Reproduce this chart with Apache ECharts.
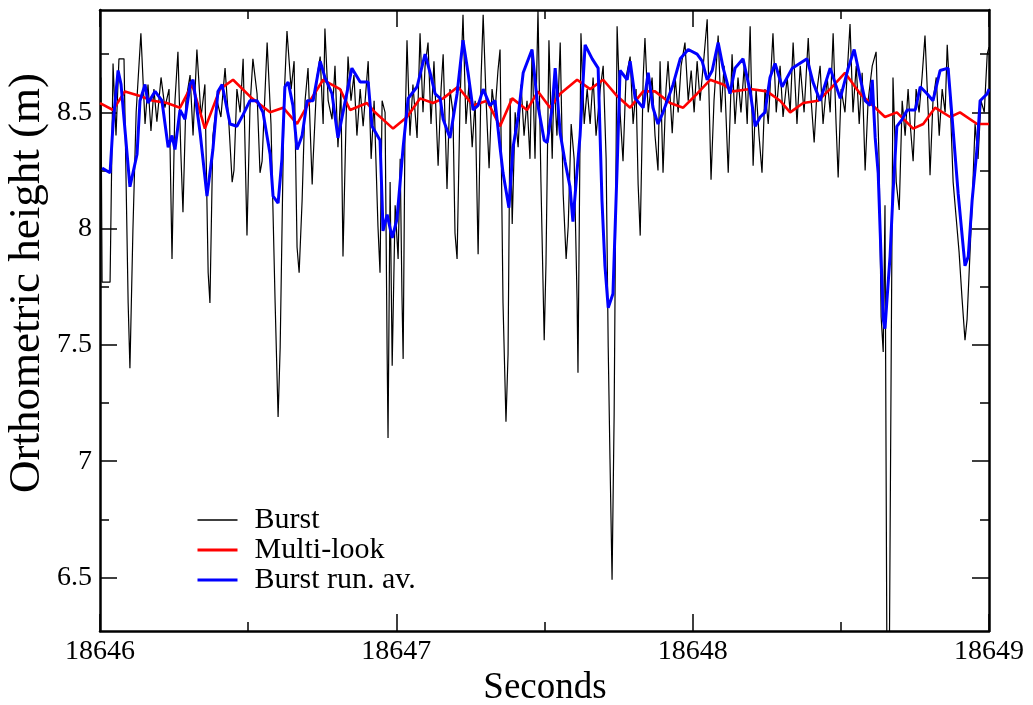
<!DOCTYPE html>
<html><head><meta charset="utf-8">
<script src="https://cdn.jsdelivr.net/npm/echarts@6/dist/echarts.min.js"></script>
<style>html,body{margin:0;padding:0;background:#fff}#c{width:1033px;height:705px}</style>
</head><body><div id="c"></div>
<script>
// time in seconds after startSecond, orthometric height in m
const startSecond = 18646;
const burst = [
[0.003,8.65],[0.007,7.77],[0.034,7.77],[0.044,8.71],[0.054,8.40],[0.064,8.73],[0.081,8.73],[0.095,7.68],[0.101,7.40],[0.111,7.99],
[0.122,8.50],[0.138,8.84],[0.152,8.45],[0.162,8.62],[0.172,8.42],[0.182,8.60],[0.192,8.46],[0.206,8.65],[0.219,8.52],[0.233,8.60],
[0.243,7.87],[0.253,8.55],[0.263,8.76],[0.273,8.32],[0.280,8.07],[0.290,8.55],[0.304,8.66],[0.314,8.40],[0.327,8.77],[0.341,8.48],
[0.354,8.62],[0.365,7.81],[0.371,7.68],[0.381,8.40],[0.395,8.55],[0.408,8.48],[0.422,8.69],[0.435,8.45],[0.446,8.20],[0.452,8.25],
[0.462,8.60],[0.473,8.50],[0.483,8.73],[0.496,7.97],[0.506,8.52],[0.516,8.73],[0.530,8.58],[0.540,8.24],[0.547,8.29],[0.564,8.80],
[0.577,8.45],[0.591,7.68],[0.601,7.19],[0.608,7.49],[0.621,8.55],[0.631,8.85],[0.645,8.60],[0.655,8.72],[0.665,7.92],[0.672,7.81],
[0.682,8.12],[0.692,8.55],[0.702,8.69],[0.716,8.19],[0.719,8.29],[0.732,8.65],
[0.743,8.74],[0.753,8.45],[0.759,8.86],[0.770,8.55],[0.783,8.47],[0.793,8.70],[0.803,8.35],[0.813,8.60],[0.820,7.88],[0.830,8.45],
[0.837,8.74],[0.847,8.55],[0.857,8.66],[0.867,8.40],[0.878,8.60],[0.888,8.44],[0.905,8.72],[0.915,8.30],[0.925,8.55],[0.938,8.01],
[0.945,7.81],[0.952,8.55],[0.962,8.50],[0.969,7.46],[0.972,7.10],[0.979,8.20],[0.986,7.41],[0.996,8.10],[1.006,7.87],[1.013,8.30],
[1.019,7.71],[1.023,7.44],[1.029,8.40],[1.036,8.81],[1.046,8.40],[1.056,8.62],[1.070,8.39],[1.080,8.84],[1.090,8.50],[1.097,8.70],
[1.107,8.80],[1.117,8.45],[1.127,8.72],[1.141,8.27],[1.151,8.60],[1.158,8.75],[1.171,8.17],[1.181,8.60],[1.191,8.50],[1.198,7.98],
[1.205,7.87],[1.215,8.55],[1.225,8.92],[1.235,8.45],[1.245,8.62],[1.256,8.35],[1.266,8.55],[1.276,7.89],[1.286,8.65],[1.293,8.92],
[1.303,8.55],[1.313,8.26],[1.323,8.60],[1.333,8.50],[1.343,8.68],[1.350,8.77],[1.360,7.68],[1.370,7.17],[1.377,7.46],[1.384,8.56],
[1.391,8.02],[1.401,8.50],[1.411,8.35],[1.421,8.62],[1.431,8.40],[1.441,8.55],[1.451,8.30],[1.458,8.77],[1.468,8.30],[1.478,8.94],
[1.488,8.20],[1.499,7.52],
[1.505,7.85],[1.515,8.81],[1.526,8.30],[1.532,8.65],[1.542,8.40],[1.553,8.80],[1.563,8.15],[1.573,7.87],[1.580,8.01],[1.590,8.45],
[1.600,8.30],[1.610,7.69],[1.613,7.38],[1.623,8.84],[1.634,8.45],[1.644,8.60],[1.654,8.45],[1.664,8.65],[1.674,8.40],[1.688,8.60],
[1.698,8.70],[1.708,8.30],[1.715,7.49],[1.721,7.01],[1.728,6.49],[1.735,7.20],[1.742,8.40],[1.745,8.87],[1.755,8.50],[1.765,8.29],
[1.775,8.65],[1.789,8.74],[1.799,8.45],[1.809,8.60],[1.816,8.19],[1.823,7.97],[1.833,8.65],[1.839,8.82],[1.850,8.50],[1.863,8.65],
[1.873,8.40],[1.883,8.25],[1.890,8.72],[1.900,8.24],[1.910,8.60],[1.917,8.72],[1.931,8.41],[1.941,8.65],[1.951,8.50],[1.961,8.70],
[1.974,8.80],[1.985,8.55],[1.995,8.68],[2.005,8.50],[2.015,8.72],[2.025,8.55],[2.039,8.75],[2.049,8.90],[2.062,8.21],[2.072,8.55],
[2.086,8.83],[2.096,8.50],[2.106,8.70],[2.120,8.24],[2.133,8.75],[2.143,8.45],[2.153,8.65],[2.163,8.50],[2.174,8.70],[2.184,8.45],
[2.194,8.87],[2.204,8.27],[2.214,8.60],[2.224,8.40],[2.234,8.24],
[2.244,8.60],[2.255,8.45],[2.271,8.84],[2.282,8.50],[2.295,8.70],[2.305,8.48],[2.319,8.65],[2.329,8.50],[2.339,8.80],[2.352,8.45],
[2.363,8.70],[2.376,8.50],[2.390,8.82],[2.400,8.55],[2.410,8.37],[2.420,8.60],[2.430,8.70],[2.440,8.45],[2.454,8.65],[2.464,8.50],
[2.474,8.84],[2.484,8.45],[2.491,8.22],[2.501,8.60],[2.514,8.50],[2.531,8.88],[2.541,8.50],[2.552,8.70],[2.562,8.45],[2.572,8.67],
[2.582,8.25],[2.592,8.55],[2.606,8.70],[2.619,8.76],[2.629,8.30],[2.636,7.62],[2.643,7.47],[2.649,8.10],[2.656,6.00],[2.663,6.00],
[2.670,7.46],[2.676,8.65],[2.687,8.20],[2.697,8.08],[2.707,8.55],[2.717,8.40],[2.727,8.60],[2.734,8.45],[2.744,8.29],[2.754,8.60],
[2.764,8.50],[2.774,8.65],[2.784,8.83],[2.795,8.50],[2.801,8.23],[2.811,8.55],[2.822,8.65],[2.832,8.40],[2.842,8.60],[2.852,8.50],
[2.859,8.79],[2.869,8.55],[2.879,8.20],[2.889,8.05],[2.899,7.90],[2.909,7.70],[2.919,7.52],[2.926,7.61],[2.936,7.90],[2.943,8.10],
[2.953,8.45],[2.963,8.30],[2.973,8.55],[2.984,8.50],[2.994,8.75],[3.000,8.78]
];
const multiLook = [
[0.000,8.54],[0.044,8.51],[0.084,8.59],[0.135,8.57],[0.179,8.55],[0.226,8.54],[0.270,8.52],[0.311,8.62],[0.354,8.43],[0.405,8.60],
[0.449,8.64],[0.513,8.56],[0.574,8.50],[0.618,8.52],[0.665,8.45],[0.709,8.55],[0.753,8.64],[0.810,8.60],[0.844,8.51],[0.901,8.54],
[0.928,8.50],[0.989,8.43],[1.036,8.48],[1.080,8.56],[1.124,8.54],[1.158,8.56],[1.208,8.61],[1.259,8.53],[1.306,8.55],[1.350,8.44],
[1.391,8.56],[1.441,8.51],[1.478,8.59],[1.519,8.52],[1.553,8.58],[1.610,8.64],[1.654,8.60],[1.698,8.64],[1.745,8.57],[1.789,8.52],
[1.833,8.59],[1.873,8.59],[1.924,8.54],[1.968,8.52],[2.015,8.58],[2.059,8.64],[2.103,8.62],[2.136,8.59],[2.194,8.60],[2.251,8.59],
[2.295,8.55],[2.329,8.50],[2.373,8.54],[2.423,8.55],[2.464,8.60],[2.514,8.67],[2.565,8.58],[2.599,8.54],[2.649,8.48],[2.689,8.50],
[2.744,8.43],[2.778,8.45],[2.818,8.52],[2.869,8.48],[2.902,8.50],[2.960,8.45],[3.000,8.45]
];
const runAverage = [
[0.007,8.26],[0.034,8.24],[0.044,8.45],[0.061,8.68],[0.071,8.62],[0.101,8.18],[0.125,8.32],[0.135,8.55],[0.152,8.62],[0.162,8.54],
[0.186,8.59],[0.209,8.55],[0.230,8.35],[0.243,8.40],[0.253,8.34],[0.270,8.51],[0.287,8.47],[0.304,8.62],[0.314,8.64],[0.338,8.41],
[0.361,8.14],[0.381,8.34],[0.398,8.59],[0.412,8.62],[0.439,8.45],[0.462,8.44],[0.483,8.49],[0.506,8.55],[0.530,8.55],[0.550,8.50],
[0.574,8.32],[0.584,8.14],[0.601,8.11],[0.614,8.30],[0.624,8.61],[0.635,8.63],[0.651,8.53],[0.665,8.34],[0.682,8.40],[0.699,8.55],
[0.719,8.55],[0.743,8.72],[0.759,8.65],[0.783,8.58],[0.803,8.39],[0.820,8.50],[0.850,8.69],[0.878,8.63],[0.905,8.63],[0.918,8.44],
[0.945,8.38],[0.952,8.12],[0.955,7.99],[0.969,8.06],[0.986,7.96],[1.002,8.04],[1.023,8.35],[1.040,8.56],[1.070,8.61],[1.097,8.75],
[1.114,8.67],[1.131,8.58],[1.148,8.56],[1.158,8.47],[1.181,8.39],[1.205,8.58],[1.225,8.81],[1.242,8.67],[1.259,8.51],[1.276,8.53],
[1.293,8.60],[1.316,8.53],[1.333,8.55],[1.350,8.35],[1.360,8.24],[1.380,8.09],[1.394,8.35],[1.411,8.48],[1.428,8.67],[1.458,8.77],
[1.475,8.55],[1.499,8.38],[1.509,8.37],[1.526,8.52],[1.536,8.69],[1.553,8.41],[1.569,8.29],[1.586,8.18],[1.596,8.03],[1.610,8.25],
[1.620,8.40],[1.637,8.79],[1.661,8.73],[1.681,8.69],[1.694,8.12],[1.704,7.84],[1.715,7.66],[1.731,7.72],[1.745,8.26],[1.755,8.68],
[1.779,8.64],[1.789,8.72],[1.806,8.56],[1.833,8.52],[1.850,8.67],[1.866,8.52],[1.883,8.45],[1.900,8.50],[1.934,8.62],[1.958,8.73],
[1.985,8.77],[2.015,8.75],[2.032,8.72],[2.049,8.64],[2.066,8.68],[2.086,8.80],[2.103,8.69],[2.126,8.58],[2.143,8.69],[2.170,8.73],
[2.194,8.59],[2.211,8.44],[2.228,8.48],[2.244,8.50],[2.261,8.65],[2.278,8.71],[2.302,8.61],[2.336,8.69],[2.386,8.73],[2.406,8.63],
[2.430,8.55],[2.464,8.69],[2.498,8.56],[2.525,8.69],[2.545,8.77],[2.565,8.65],[2.582,8.55],[2.599,8.53],[2.606,8.64],[2.616,8.39],
[2.626,8.24],[2.633,7.98],[2.643,7.61],[2.649,7.57],[2.656,7.70],[2.666,7.88],[2.676,8.15],[2.689,8.44],[2.707,8.47],[2.724,8.51],
[2.751,8.51],[2.768,8.61],[2.791,8.58],[2.811,8.55],[2.835,8.68],[2.862,8.69],[2.876,8.47],[2.896,8.15],[2.919,7.84],[2.930,7.88],
[2.943,8.12],[2.960,8.35],[2.970,8.55],[2.994,8.58],[3.000,8.60]
];
const xRange = [18646, 18649];
const yRange = [6.27, 8.94];
const yMajorTicks = [6.5, 7, 7.5, 8, 8.5];
const yMinorTicks = [6.75, 7.25, 7.75, 8.25, 8.75];
const seriesNames = ['Burst', 'Multi-look', 'Burst run. av.'];

const FONT = 'Liberation Serif';
const toXY = arr => arr.map(p => [startSecond + p[0], p[1]]);

function yAxis(pos, ticks, len, labels, line) {
  return {
    type: 'value', position: pos, min: yRange[0], max: yRange[1],
    axisLine: { show: line, onZero: false, lineStyle: { color: '#000', width: 2.5 } },
    axisTick: { show: true, inside: true, length: len, customValues: ticks, lineStyle: { color: '#000', width: 1.5 } },
    axisLabel: { show: labels, customValues: ticks, color: '#000', fontFamily: FONT, fontSize: 28, margin: 8, formatter: v => String(v) },
    splitLine: { show: false }
  };
}
function xAxis(pos, labels) {
  return {
    type: 'value', position: pos, min: xRange[0], max: xRange[1], interval: 1,
    axisLine: { show: true, onZero: false, lineStyle: { color: '#000', width: 2.5 } },
    axisTick: { show: true, inside: true, length: 17, lineStyle: { color: '#000', width: 1.5 } },
    minorTick: { show: true, splitNumber: 2, length: 9, lineStyle: { color: '#000', width: 1.5 } },
    axisLabel: { show: labels, color: '#000', fontFamily: FONT, fontSize: 28, margin: 7, formatter: v => String(v) },
    splitLine: { show: false }, minorSplitLine: { show: false }
  };
}
const hiddenSymbol = { color: 'rgba(0,0,0,0)', borderWidth: 0, opacity: 0 };

const chart = echarts.init(document.getElementById('c'), null, { renderer: 'canvas' });
chart.setOption({
  animation: false,
  backgroundColor: '#fff',
  grid: { left: 100, right: 44, top: 10, bottom: 74, containLabel: false },
  xAxis: [xAxis('bottom', true), xAxis('top', false)],
  yAxis: [
    yAxis('left', yMajorTicks, 17, true, true),
    yAxis('left', yMinorTicks, 9, false, false),
    yAxis('right', yMajorTicks, 17, false, true),
    yAxis('right', yMinorTicks, 9, false, false)
  ],
  legend: {
    orient: 'vertical', left: 196, top: 505, padding: 0, itemGap: 0,
    itemWidth: 40, itemHeight: 14,
    itemStyle: hiddenSymbol,
    textStyle: { color: '#000', fontFamily: FONT, fontSize: 30, lineHeight: 29, padding: [0, 0, 0, 12] },
    data: [
      { name: seriesNames[0], itemStyle: hiddenSymbol, lineStyle: { width: 1.3, color: '#000' } },
      { name: seriesNames[1], itemStyle: hiddenSymbol, lineStyle: { width: 3, color: '#ff0000' } },
      { name: seriesNames[2], itemStyle: hiddenSymbol, lineStyle: { width: 3, color: '#0000ff' } }
    ]
  },
  graphic: [
    { type: 'text', x: 545, y: 688, style: { text: 'Seconds', font: '37px "Liberation Serif"', fill: '#000', textAlign: 'center', textVerticalAlign: 'middle' } },
    { type: 'text', x: 27, y: 283, rotation: Math.PI / 2, style: { text: 'Orthometric height (m)', font: '45px "Liberation Serif"', fill: '#000', textAlign: 'center', textVerticalAlign: 'middle' } }
  ],
  series: [
    { name: seriesNames[0], type: 'line', data: toXY(burst), showSymbol: false, symbol: 'none', color: '#000', lineStyle: { color: '#000', width: 1.2 } },
    { name: seriesNames[1], type: 'line', data: toXY(multiLook), showSymbol: false, symbol: 'none', color: '#ff0000', lineStyle: { color: '#ff0000', width: 2.6 } },
    { name: seriesNames[2], type: 'line', data: toXY(runAverage), showSymbol: false, symbol: 'none', color: '#0000ff', lineStyle: { color: '#0000ff', width: 3 } }
  ]
});
</script></body></html>
